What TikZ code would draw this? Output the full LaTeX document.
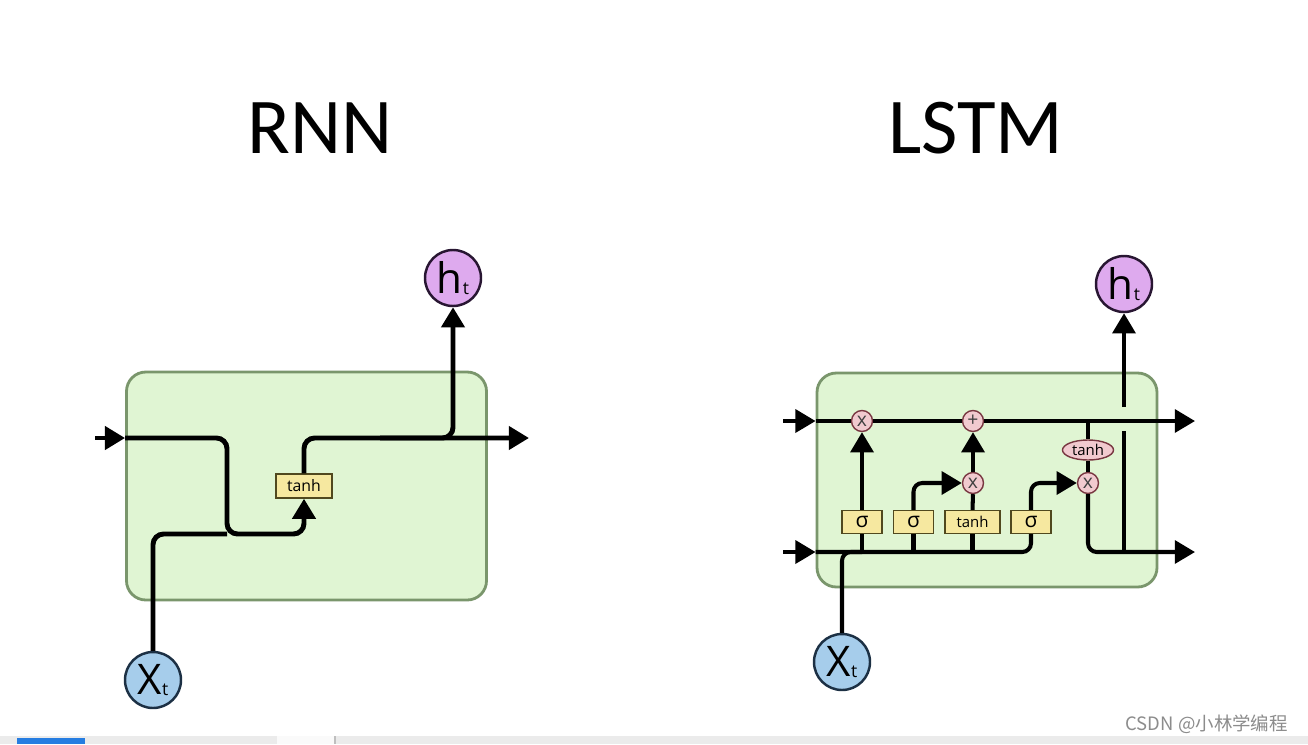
\documentclass[tikz,border=0pt]{standalone}
\usepackage{fontspec}
\setmainfont{Open Sans}
\newfontfamily\titlefont{Carlito}
\newfontfamily\cjkfont{Noto Sans CJK SC}
\usetikzlibrary{arrows.meta,shapes.geometric}

\definecolor{cellfill}{RGB}{224,245,211}
\definecolor{cellborder}{RGB}{122,150,108}
\definecolor{boxfill}{RGB}{246,232,160}
\definecolor{boxborder}{RGB}{80,72,30}
\definecolor{opfill}{RGB}{241,202,207}
\definecolor{opborder}{RGB}{120,55,65}
\definecolor{xfill}{RGB}{166,205,235}
\definecolor{xborder}{RGB}{28,48,68}
\definecolor{hfill}{RGB}{222,170,238}
\definecolor{hborder}{RGB}{40,22,50}
\definecolor{barblue}{RGB}{38,125,225}

\begin{document}
\begin{tikzpicture}[x=0.02cm,y=-0.02cm,
  cell/.style={draw=cellborder, fill=cellfill, line width=1.6pt, rounded corners=11pt, inner sep=0pt},
  rline/.style={line width=2.8pt, rounded corners=6pt},
  lline/.style={line width=2.3pt, rounded corners=5pt},
  tip/.style={-{Triangle[length=11.5pt,width=13pt]}},
  gatebox/.style={draw=boxborder, fill=boxfill, line width=0.8pt, inner sep=0pt, minimum height=23*0.02cm},
  opnode/.style={circle, draw=opborder, fill=opfill, line width=0.8pt, minimum size=21*0.02cm, inner sep=0pt, text=black!75, font=\fontsize{11}{11}\selectfont},
  opoval/.style={ellipse, draw=opborder, fill=opfill, line width=0.8pt, minimum width=51*0.02cm, minimum height=20*0.02cm, inner sep=0pt, font=\fontsize{8.5}{9}\selectfont},
  xin/.style={circle, draw=xborder, fill=xfill, line width=1.4pt, minimum size=56*0.02cm, inner sep=0pt},
  hout/.style={circle, draw=hborder, fill=hfill, line width=1.4pt, minimum size=56*0.02cm, inner sep=0pt},
  title/.style={font=\titlefont\fontsize{45}{45}\selectfont},
]
\useasboundingbox (0,0) rectangle (1308,744);
\fill[white] (0,0) rectangle (1308,744);

% titles
\node[title] (trnn) at (320,128) {RNN};
\node[title] (tlstm) at (976,128) {LSTM};

% ---------------- RNN cell ----------------
\node[cell, minimum width=360*0.02cm, minimum height=228*0.02cm] (rcell) at (306.5,486) {};
\node[gatebox, minimum width=56*0.02cm, minimum height=24*0.02cm, font=\fontsize{9}{9}\selectfont] (rtanh) at (304,486) {tanh};
\node[xin] (rx) at (153,680) {\fontsize{24}{24}\selectfont X\raisebox{-1pt}{\fontsize{10}{10}\selectfont t}};
\node[hout] (rh) at (453,278) {\fontsize{24}{24}\selectfont h\raisebox{-1pt}{\fontsize{10}{10}\selectfont t}};
\coordinate (rin) at (95,438);
\coordinate (rout) at (529,438);
\coordinate (rbend) at (227,438);
\coordinate (rlow) at (227,534);
\coordinate (rup) at (453,438);

\draw[rline, tip] (rin) -- (rcell.west |- rin);
\draw[rline, tip] (rcell.west |- rin) -- (rbend) -- (rlow) -- (rtanh.south |- rlow) -- (rtanh.south);
\draw[rline] (rx.north) -- (rx.north |- rlow) -- (rlow);
\draw[rline, tip] (rtanh.north) -- (rtanh.north |- rin) -- (rout);
\draw[rline, tip] (380,438) -- (rup) -- (rh.south);

% ---------------- LSTM cell ----------------
\node[cell, minimum width=340*0.02cm, minimum height=214*0.02cm] (lcell) at (987,480) {};
\coordinate (cin) at (783,421);
\coordinate (cout) at (1195,421);
\coordinate (hin) at (783,552);
\coordinate (hend) at (1195,552);

\node[gatebox, minimum width=40*0.02cm, font=\fontsize{12}{12}\selectfont] (sf) at (862,522) {σ};
\node[gatebox, minimum width=40*0.02cm, font=\fontsize{12}{12}\selectfont] (si) at (913.5,522) {σ};
\node[gatebox, minimum width=55*0.02cm, font=\fontsize{8.5}{9}\selectfont] (tg) at (972.5,522) {tanh};
\node[gatebox, minimum width=40*0.02cm, font=\fontsize{12}{12}\selectfont] (so) at (1031,522) {σ};

\node[opnode] (fx) at (862,421) {x};
\node[opnode] (plus) at (973,421) {+};
\node[opnode] (ix) at (973,483) {x};
\node[opnode] (ox) at (1088,483) {x};
\node[opoval] (ct) at (1088,450) {tanh};

\node[xin] (lx) at (842,662) {\fontsize{24}{24}\selectfont X\raisebox{-1pt}{\fontsize{10}{10}\selectfont t}};
\node[hout] (lh) at (1124,284) {\fontsize{24}{24}\selectfont h\raisebox{-1pt}{\fontsize{10}{10}\selectfont t}};

% cell state line
\draw[lline, tip] (cin) -- (lcell.west |- cin);
\draw[lline] (lcell.west |- cin) -- (fx.west);
\draw[lline] (fx.east) -- (plus.west);
\draw[lline, tip] (plus.east) -- (cout);

% hidden state input line and gates
\draw[lline, tip] (hin) -- (lcell.west |- hin);
\draw[lline] (lcell.west |- hin) -- (so.south |- hin) -- (so.south);
\draw[lline] (lx.north) -- (lx.north |- hin) -- (sf.south |- hin);
\draw[lline] (sf.south |- hin) -- (sf.south);
\draw[lline] (si.south |- hin) -- (si.south);
\draw[lline] (tg.south |- hin) -- (tg.south);

\draw[lline, tip] (sf.north) -- (fx.south);
\draw[lline, tip] (si.north) -- (si.north |- ix) -- (ix.west);
\draw[lline] (tg.north) -- (ix.south);
\draw[lline, tip] (ix.north) -- (plus.south);
\draw[lline, tip] (so.north) -- (so.north |- ox) -- (ox.west);

% output path
\draw[lline] (ct.north |- cin) -- (ct.north);
\draw[lline] (ct.south) -- (ox.north);
\draw[lline, tip] (ox.south) -- (ox.south |- hend) -- (hend);
\coordinate (gaplow) at (1124,431);
\coordinate (gaphigh) at (1124,407);
\draw[lline] (lh.south |- hend) -- (gaplow);
\draw[lline, tip] (gaphigh) -- (lh.south);

% footer
\node[font=\cjkfont\fontsize{10.5}{11}\selectfont, text=black!45, anchor=east] (mark) at (1294,724) {CSDN @小林学编程};
\fill[black!8] (0,736) rectangle (1308,744);
\fill[black!2] (277,736) rectangle (334,744);
\draw[black!25, line width=0.6pt] (335,736) -- (335,744);
\fill[barblue] (17,738) rectangle (85,744);
\end{tikzpicture}
\end{document}
